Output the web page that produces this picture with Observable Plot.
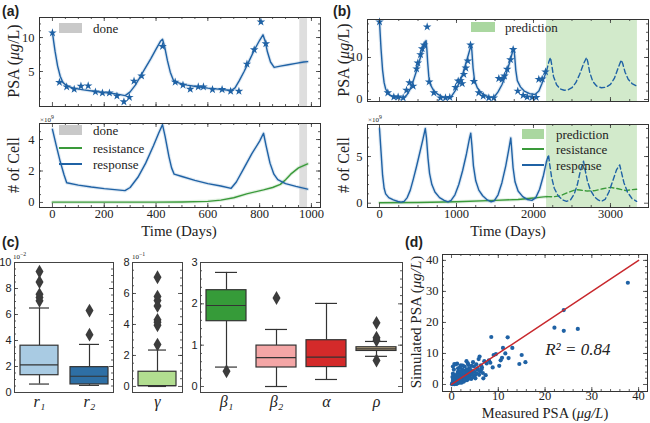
<!DOCTYPE html>
<html><head><meta charset="utf-8">
<script src="https://cdn.jsdelivr.net/npm/d3@7"></script>
<script src="https://cdn.jsdelivr.net/npm/@observablehq/plot@0.6"></script>
<style>
body{margin:0;background:#fff;}
#root{position:relative;width:650px;height:423px;overflow:hidden;font-family:"Liberation Serif",serif;color:#222;}
.p{position:absolute;line-height:0;}
.lab{position:absolute;white-space:nowrap;transform:translate(-50%,-50%);line-height:1;}
.rot{transform:translate(-50%,-50%) rotate(-90deg);}
.pl{position:absolute;font-family:"Liberation Sans",Arial,sans-serif;font-weight:bold;font-size:14px;line-height:1;transform:translateY(-50%);}
.exp{position:absolute;font-size:7px;line-height:1;font-family:"Liberation Serif",serif;}
.sw{position:absolute;}
.lt{position:absolute;font-size:13px;line-height:1;transform:translateY(-50%);white-space:nowrap;}
</style></head>
<body><div id="root"></div>
<script>
// ---------------- DATA ----------------
// Panel (a): patient with "done" window
const aDoneWindow = [[955, 985]];
const aPsaMeasured = [[0,10.7],[27,3.4],[55,2.75],[84,2.4],[110,2.85],[138,2.9],[166,2.0],[193,1.85],[220,1.85],[249,1.4],[276,0.55],[297,1.2],[315,3.6],[344,4.35],[425,8.7],[474,3.45],[504,3.0],[532,2.4],[563,2.75],[583,2.75],[618,2.35],[655,2.35],[688,2.1],[720,2.1],[751,6.1],[779,8.2],[805,12.3],[824,9.1]];
const aPsaFit = [[0,10.7],[10,8.0],[20,5.8],[30,4.3],[40,3.4],[55,2.9],[80,2.55],[120,2.3],[160,2.1],[200,1.9],[240,1.75],[281,1.45],[300,2.0],[320,3.0],[340,4.3],[360,5.6],[380,6.9],[400,8.3],[418,9.5],[425,9.75],[433,8.7],[444,6.6],[455,4.9],[467,3.7],[480,3.4],[520,3.0],[560,2.75],[600,2.55],[640,2.4],[690,2.2],[705,2.6],[722,3.7],[740,5.0],[760,6.6],[780,8.2],[800,9.6],[813,10.4],[821,9.5],[830,7.9],[842,6.4],[856,5.6],[880,5.8],[910,6.0],[940,6.2],[970,6.4],[985,6.45]];
const aResponse = [[0,4.65],[15,3.6],[30,2.6],[45,1.75],[55,1.25],[100,1.1],[150,0.98],[200,0.88],[250,0.8],[280,0.75],[300,0.95],[330,1.6],[360,2.5],[390,3.6],[410,4.4],[425,4.95],[435,4.2],[450,2.9],[460,2.2],[470,1.8],[500,1.65],[550,1.4],[600,1.2],[650,1.05],[690,0.9],[710,1.3],[740,2.2],[770,3.1],[800,3.9],[815,4.4],[825,3.6],[840,2.5],[855,1.8],[870,1.45],[900,1.2],[940,1.02],[985,0.85]];
const aResistance = [[0,0.02],[200,0.02],[400,0.02],[500,0.03],[600,0.07],[650,0.15],[700,0.3],[750,0.55],[815,0.8],[850,0.95],[880,1.15],[900,1.45],[920,1.8],[950,2.2],[985,2.45]];
const aTimeTicks = [0,200,400,600,800,1000];

// Panel (b): patient with prediction window
const bPredictionWindow = [[2170, 3350]];
const bPsaMeasured = [[0,18.5],[108,1.6],[186,0.6],[242,0.6],[307,0.4],[351,2.2],[390,4.0],[437,3.2],[481,7.3],[498,8.7],[532,10.7],[554,12.1],[580,13.0],[619,17.3],[645,4.2],[706,1.6],[792,0.4],[857,0.4],[913,0.5],[987,2.9],[1022,4.4],[1052,4.5],[1074,3.8],[1095,6.0],[1121,7.5],[1147,9.2],[1182,13.0],[1225,4.3],[1290,1.6],[1347,0.8],[1420,0.4],[1485,0.4],[1550,5.0],[1593,4.8],[1623,5.6],[1658,7.2],[1701,9.5],[1736,11.9],[1796,2.0],[1866,1.0],[1918,0.6],[1983,0.5],[2035,0.5],[2069,4.8],[2113,4.9],[2156,6.6]];
const bPsaFit = [[0,18.5],[20,12],[40,7],[60,4],[80,2.5],[110,1.5],[150,0.9],[200,0.6],[260,0.5],[320,0.5],[360,1.2],[400,2.5],[440,4.5],[480,6.8],[520,9.3],[560,11.8],[590,13.5],[605,14],[615,12],[625,9],[640,5.5],[660,3.6],[700,2.2],[760,1.2],[820,0.6],[880,0.4],[930,0.6],[980,2],[1030,3.7],[1080,6],[1120,8.5],[1160,11],[1190,13],[1200,11.5],[1215,7.5],[1235,4.5],[1270,2.8],[1320,1.6],[1380,0.9],[1440,0.5],[1490,0.6],[1540,1.8],[1590,3.5],[1640,5.8],[1690,8.8],[1730,11.5],[1745,12],[1755,10.5],[1770,7],[1790,4.5],[1830,3],[1880,2],[1950,1.4],[2020,1.2],[2070,2.0],[2110,3.8],[2150,5.8],[2170,6.8]];
const bPsaPred = [[2170,6.8],[2200,9],[2220,10],[2235,8.5],[2260,5.5],[2300,3.5],[2350,2.5],[2400,2.2],[2450,2.3],[2500,2.8],[2550,4],[2600,6],[2650,8.5],[2690,10],[2705,9],[2730,6.5],[2770,4.3],[2820,3.2],[2880,2.8],[2940,2.9],[3000,3.6],[3050,5],[3100,7.5],[3140,9.4],[3160,8.5],[3190,6.5],[3230,4.8],[3280,3.8],[3340,3.2]];
const bResponse = [[0,8.0],[20,5.5],[40,3],[60,1.6],[80,1.0],[120,0.6],[180,0.35],[240,0.18],[280,0.12],[320,0.2],[360,0.6],[400,1.4],[440,2.6],[480,3.9],[520,5.3],[560,6.7],[595,8.0],[610,7.0],[630,4.8],[650,3.2],[680,2],[720,1.2],[780,0.6],[840,0.3],[890,0.15],[930,0.3],[980,0.9],[1030,2.0],[1080,3.5],[1130,5.3],[1170,7.0],[1185,7.5],[1200,6.2],[1220,4],[1250,2.4],[1290,1.4],[1340,0.8],[1400,0.35],[1450,0.15],[1490,0.25],[1540,0.9],[1590,2.2],[1640,4.0],[1680,5.8],[1705,7.0],[1715,6],[1735,3.8],[1760,2.3],[1800,1.3],[1860,0.7],[1920,0.4],[1980,0.3],[2030,0.6],[2080,1.5],[2130,3.0],[2170,4.5]];
const bResponsePred = [[2170,4.5],[2195,5.2],[2210,4.2],[2235,2.8],[2270,1.6],[2320,0.8],[2380,0.35],[2430,0.2],[2480,0.35],[2530,1.0],[2570,2.0],[2610,3.5],[2650,4.5],[2670,3.6],[2700,2.4],[2740,1.4],[2790,0.7],[2840,0.35],[2880,0.2],[2930,0.4],[2980,1.2],[3030,2.4],[3080,3.6],[3120,4.1],[3140,3.4],[3175,2.2],[3220,1.2],[3280,0.5],[3340,0.2]];
const bResistance = [[0,0.05],[500,0.08],[1000,0.15],[1500,0.3],[1800,0.4],[2000,0.55],[2100,0.65],[2170,0.7]];
const bResistancePred = [[2170,0.7],[2250,0.68],[2350,0.8],[2450,1.15],[2550,1.45],[2600,1.42],[2700,1.3],[2800,1.35],[2900,1.55],[3000,1.7],[3100,1.55],[3200,1.35],[3280,1.45],[3340,1.5]];
const bTimeTicks = [0,1000,2000,3000];

// Panel (c): parameter box plots (summary statistics)
const c1Names = ["r₁","r₂"];            // ×10^-2
const c1Lo = [0.65,0.55], c1Q1 = [1.33,0.62], c1Med = [2.12,1.25], c1Q3 = [3.6,1.95], c1Hi = [6.5,3.7];
const c1Colors = ["#a9cbe3","#2e6fa5"];
const c1Outliers = [["r₁",7.05],["r₁",7.3],["r₁",7.55],["r₁",8.5],["r₁",9.3],["r₂",4.45],["r₂",6.3]];
const c2Names = ["γ"];                   // ×10^-1
const c2Lo = [0], c2Q1 = [0.02], c2Med = [0.06], c2Q3 = [0.95], c2Hi = [2.35];
const c2Colors = ["#b2de90"];
const c2Outliers = [["γ",2.7],["γ",3.95],["γ",4.15],["γ",4.3],["γ",5.2],["γ",5.55],["γ",5.8],["γ",7.05]];
const c3Names = ["β₁","β₂","α","ρ"];
const c3Lo = [0.47,0.0,0.17,0.73], c3Q1 = [1.58,0.46,0.47,0.86], c3Med = [1.96,0.70,0.71,0.91], c3Q3 = [2.33,0.99,1.12,0.95], c3Hi = [2.76,1.38,2.01,1.09];
const c3Colors = ["#369b39","#f4a6a6","#d42a2a","#c5b189"];
const c3Outliers = [["β₁",0.37],["β₂",2.14],["ρ",1.54],["ρ",1.18],["ρ",1.12],["ρ",0.63]];

// Panel (d): measured vs simulated PSA
const psaPairs = [[37.7,32.8],[24,24],[22,18.3],[24,17.3],[27,17.9],[8.5,15.3],[12,15.2],[11,11.8],[13,11.8],[15,9.5],[15.8,7.2],[14.5,6.6],[10.5,7.8],[10.8,8.6],[12.2,8.5],[11.5,10],[9.5,9.8],[9,9.5],[10.2,6],[8.8,5.5],[8.3,7],[8,7.8],[7.5,6.8],[7.3,3],[7,7.5],[6.8,2],[6.5,5.5],[6.3,6.2],[6,9],[5.8,8.2],[5.5,4.8],[5.3,6.5],[5,3],[4.8,5.8],[4.5,4.2],[4.3,6],[4,3.8],[3.8,5.2],[3.5,6.8],[3.2,7.5],[3,4.5],[2.8,5.8],[2.5,3.2],[2.3,4.8],[2,6.2],[1.8,5.5],[1.5,4.3],[1.2,6.7],[0.9,6.5],[0.5,4.8],[0.3,3.5],[0.7,2.8],[0.4,2],[1.2,0.3],[1,1],[0.8,0.5],[0.6,1.5],[0.5,0.2],[0.3,0.8],[0.2,0.3],[0.1,0.1],[0.2,0.5],[0.3,1.2],[0.4,0.4],[0.5,0.9],[0.6,0.1],[0.7,1.8],[0.8,1.2],[0.9,0.3],[1,2.2],[1.1,1.6],[1.2,0.8],[1.3,2.5],[1.4,1.1],[1.5,0.5],[1.6,1.9],[1.7,2.8],[1.8,1.4],[1.9,0.7],[2,2],[2.1,3.1],[2.2,1.2],[2.3,2.4],[2.4,1.7],[2.6,0.9],[2.7,2.6],[2.9,1.9],[3,3.4],[3.1,2.3],[3.3,1.4],[3.4,3.6],[3.6,2.5],[3.7,4.1],[3.9,2.9],[4.1,4.6],[4.2,1.8],[4.4,3.3],[4.6,2.4],[4.9,4.1],[5.1,2],[5.4,3.6],[5.6,5.2],[5.9,3.1],[6.1,4.2],[6.4,4.9],[6.7,3.7],[0.2,2.4],[0.35,1.7],[0.45,3],[0.55,0.6],[0.65,2.1],[0.75,0.8],[0.85,1.4],[0.95,2.6],[1.05,0.2],[1.15,3.3],[1.25,1.4],[1.35,4],[1.45,2.1],[1.55,3.2],[1.65,0.9],[1.75,3.8],[1.85,2.2],[1.95,1.5],[2.05,4.2],[2.15,0.6],[2.25,3.5],[2.45,2.8],[2.65,3.9],[2.85,1.3],[3.05,2.7],[3.25,4.9],[3.45,1.9],[3.65,3.1],[3.85,2],[0.3,5.8],[0.6,6.6],[1.4,5.2],[2.4,6.1],[3.6,6.3],[4.6,7.2]];
const identityLine = [[0,0],[40,40]];
const r2Note = [{x: 27, y: 11.3, text: "R² = 0.84"}];
const dTicks = [0,10,20,30,40];

// ---------------- STYLE ----------------
const BLUE = "#1f62a5", GREEN = "#3a9a3a", FRAME = "#333";
const serif = "Liberation Serif, serif", sans = "Liberation Sans, Arial, sans-serif";
const root = document.getElementById("root");
const plain = d => String(d);

function place(el, left, top) {
  const d = document.createElement("div");
  d.className = "p"; d.style.left = left + "px"; d.style.top = top + "px";
  d.appendChild(el); root.appendChild(d);
}
function html(s) { root.insertAdjacentHTML("beforeend", s); }

function inTicks(xs, ys, W, H, len) {
  const o = {stroke: FRAME, strokeWidth: 0.8};
  const m = [];
  if (xs) m.push(Plot.ruleX(xs, {x: d => d, insetTop: H - len, ...o}), Plot.ruleX(xs, {x: d => d, insetBottom: H - len, ...o}));
  if (ys) m.push(Plot.ruleY(ys, {y: d => d, insetRight: W - len, ...o}), Plot.ruleY(ys, {y: d => d, insetLeft: W - len, ...o}));
  return m;
}
const X = d => d[0], Y = d => d[1];
function curve(data, stroke, dashed) {
  const m = [];
  if (!dashed) m.push(Plot.line(data, {x: X, y: Y, stroke, strokeWidth: 3.5, strokeOpacity: 0.15}));
  m.push(Plot.line(data, {x: X, y: Y, stroke, strokeWidth: 1.4, strokeDasharray: dashed ? "5,3" : null}));
  return m;
}
const baseStyle = {fontFamily: serif, fontSize: "12.5px", color: "#222", background: "transparent", overflow: "visible"};

// ---------------- PANEL (a) top ----------------
{
  const w = 325, h = 110, ml = 39, mr = 5, mt = 17, mb = 4;
  const W = w - ml - mr, H = h - mt - mb;
  place(Plot.plot({
    width: w, height: h, marginLeft: ml, marginRight: mr, marginTop: mt, marginBottom: mb,
    x: {domain: [-50, 1035], axis: null}, y: {domain: [-0.15, 12.95]},
    style: baseStyle,
    marks: [
      Plot.rect(aDoneWindow, {x1: X, x2: Y, fill: "#dedede"}),
      ...curve(aPsaFit, BLUE),
      Plot.dot(aPsaMeasured, {x: X, y: Y, symbol: "star", r: 2.7, fill: BLUE, stroke: "none"}),
      Plot.axisY({ticks: [5, 10], tickFormat: plain, tickSize: 0, tickPadding: 5, label: null}),
      ...inTicks(aTimeTicks, [5, 10], W, H, 4),
      ...inTicks(d3.range(50, 1001, 50), d3.range(1, 13, 1), W, H, 2),
      Plot.frame({stroke: FRAME})
    ]
  }), 0, 0);
}
// ---------------- PANEL (a) bottom ----------------
{
  const w = 325, h = 130, ml = 39, mr = 5, mt = 13, mb = 33;
  const W = w - ml - mr, H = h - mt - mb;
  place(Plot.plot({
    width: w, height: h, marginLeft: ml, marginRight: mr, marginTop: mt, marginBottom: mb,
    x: {domain: [-50, 1035]}, y: {domain: [-0.32, 5.02]},
    style: baseStyle,
    marks: [
      Plot.rect(aDoneWindow, {x1: X, x2: Y, fill: "#dedede"}),
      ...curve(aResistance, GREEN),
      ...curve(aResponse, BLUE),
      Plot.axisX({ticks: aTimeTicks, tickFormat: plain, tickSize: 0, tickPadding: 2, label: null}),
      Plot.axisY({ticks: [0, 2, 4], tickFormat: plain, tickSize: 0, tickPadding: 5, label: null}),
      ...inTicks(aTimeTicks, [0, 2, 4], W, H, 4),
      ...inTicks(d3.range(50, 1001, 50), d3.range(0.5, 5, 0.5), W, H, 2),
      Plot.frame({stroke: FRAME})
    ]
  }), 0, 110);
}
// ---------------- PANEL (b) top ----------------
{
  const w = 325, h = 110, ml = 42, mr = 2, mt = 19, mb = 9;
  const W = w - ml - mr, H = h - mt - mb;
  place(Plot.plot({
    width: w, height: h, marginLeft: ml, marginRight: mr, marginTop: mt, marginBottom: mb,
    x: {domain: [-156, 3494], axis: null}, y: {domain: [-0.48, 19.05]},
    style: baseStyle,
    marks: [
      Plot.rect(bPredictionWindow, {x1: X, x2: Y, fill: "#d2eacb"}),
      ...curve(bPsaFit, BLUE),
      ...curve(bPsaPred, BLUE, true),
      Plot.dot(bPsaMeasured, {x: X, y: Y, symbol: "star", r: 2.7, fill: BLUE, stroke: "none"}),
      Plot.axisY({ticks: [0, 10], tickFormat: plain, tickSize: 0, tickPadding: 5, label: null}),
      ...inTicks(bTimeTicks, [0, 10], W, H, 4),
      ...inTicks(d3.range(250, 3401, 250), d3.range(2, 19, 2), W, H, 2),
      Plot.frame({stroke: FRAME})
    ]
  }), 325, 0);
}
// ---------------- PANEL (b) bottom ----------------
{
  const w = 325, h = 130, ml = 42, mr = 2, mt = 14, mb = 33;
  const W = w - ml - mr, H = h - mt - mb;
  place(Plot.plot({
    width: w, height: h, marginLeft: ml, marginRight: mr, marginTop: mt, marginBottom: mb,
    x: {domain: [-156, 3494]}, y: {domain: [-0.46, 8.43]},
    style: baseStyle,
    marks: [
      Plot.rect(bPredictionWindow, {x1: X, x2: Y, fill: "#d2eacb"}),
      ...curve(bResistance, GREEN),
      ...curve(bResistancePred, GREEN, true),
      ...curve(bResponse, BLUE),
      ...curve(bResponsePred, BLUE, true),
      Plot.axisX({ticks: bTimeTicks, tickFormat: plain, tickSize: 0, tickPadding: 2, label: null}),
      Plot.axisY({ticks: [0, 5], tickFormat: plain, tickSize: 0, tickPadding: 5, label: null}),
      ...inTicks(bTimeTicks, [0, 5], W, H, 4),
      ...inTicks(d3.range(250, 3401, 250), d3.range(1, 8.1, 1), W, H, 2),
      Plot.frame({stroke: FRAME})
    ]
  }), 325, 110);
}
// ---------------- PANEL (c) box plots ----------------
function boxPanel({names, lo, q1, med, q3, hi, colors, outliers, yDomain, yTicks, yMinor, w, ml, mr, pi, po, left, capInset}) {
  const h = 173, mt = 12, mb = 31;
  const W = w - ml - mr, H = h - mt - mb;
  const rows = names.map((n, i) => ({n, lo: lo[i], q1: q1[i], med: med[i], q3: q3[i], hi: hi[i], c: colors[i]}));
  const o = {stroke: "#333", strokeWidth: 1.2};
  place(Plot.plot({
    width: w, height: h, marginLeft: ml, marginRight: mr, marginTop: mt, marginBottom: mb,
    x: {domain: names, paddingInner: pi, paddingOuter: po},
    y: {domain: yDomain},
    color: {type: "identity"},
    style: {...baseStyle, fontFamily: sans, fontSize: "11px"},
    marks: [
      Plot.ruleX(rows, {x: "n", y1: "lo", y2: "q1", ...o}),
      Plot.ruleX(rows, {x: "n", y1: "q3", y2: "hi", ...o}),
      Plot.barY(rows, {x: "n", y1: "q1", y2: "q3", fill: "c", ...o}),
      Plot.tickY(rows, {x: "n", y: "med", ...o}),
      Plot.tickY(rows, {x: "n", y: "lo", insetLeft: capInset, insetRight: capInset, ...o}),
      Plot.tickY(rows, {x: "n", y: "hi", insetLeft: capInset, insetRight: capInset, ...o}),
      Plot.dot(outliers, {x: X, y: Y, symbol: "diamond", r: 4.2, fill: "#3c3c3c", stroke: "none"}),
      Plot.axisX({tickSize: 0, tickPadding: 3, label: null, fontSize: 16, fontStyle: "italic", fontFamily: serif}),
      Plot.axisY({ticks: yTicks, tickFormat: plain, tickSize: 0, tickPadding: 3, label: null}),
      ...inTicks(null, yTicks, W, H, 4),
      ...inTicks(null, yMinor, W, H, 2),
      Plot.frame({stroke: "#444"})
    ]
  }), left, 250);
}
boxPanel({names: c1Names, lo: c1Lo, q1: c1Q1, med: c1Med, q3: c1Q3, hi: c1Hi, colors: c1Colors, outliers: c1Outliers,
  yDomain: [0, 10], yTicks: [0, 2, 4, 6, 8, 10], yMinor: d3.range(0.5, 10, 0.5), w: 120, ml: 14, mr: 7, pi: 0.24, po: 0.11, left: 0, capInset: 9});
boxPanel({names: c2Names, lo: c2Lo, q1: c2Q1, med: c2Med, q3: c2Q3, hi: c2Hi, colors: c2Colors, outliers: c2Outliers,
  yDomain: [-0.39, 8], yTicks: [0, 2, 4, 6, 8], yMinor: d3.range(0.5, 8, 0.5), w: 67, ml: 12, mr: 5, pi: 0.2, po: 0.125, left: 120, capInset: 10});
boxPanel({names: c3Names, lo: c3Lo, q1: c3Q1, med: c3Med, q3: c3Q3, hi: c3Hi, colors: c3Colors, outliers: c3Outliers,
  yDomain: [-0.145, 3], yTicks: [0, 1, 2, 3], yMinor: d3.range(0.2, 3, 0.2), w: 218, ml: 13, mr: 3, pi: 0.21, po: 0.105, left: 187, capInset: 9});

// ---------------- PANEL (d) scatter ----------------
{
  const w = 245, h = 173, ml = 37, mr = 3, mt = 4, mb = 32;
  const W = w - ml - mr, H = h - mt - mb;
  place(Plot.plot({
    width: w, height: h, marginLeft: ml, marginRight: mr, marginTop: mt, marginBottom: mb,
    x: {domain: [-1.93, 41.9]}, y: {domain: [-2.26, 41.9]},
    style: baseStyle,
    marks: [
      Plot.dot(psaPairs, {x: X, y: Y, r: 2.1, fill: BLUE, stroke: "none"}),
      Plot.line(identityLine, {x: X, y: Y, stroke: "#c8282d", strokeWidth: 1.5}),
      Plot.text(r2Note, {x: "x", y: "y", text: "text", fontSize: 17, fontStyle: "italic", fill: "#222"}),
      Plot.axisX({ticks: dTicks, tickFormat: plain, tickSize: 0, tickPadding: 0, label: null}),
      Plot.axisY({ticks: dTicks, tickFormat: plain, tickSize: 0, tickPadding: 4, label: null}),
      ...inTicks(dTicks, dTicks, W, H, 4),
      ...inTicks(d3.range(2, 41, 2), d3.range(2, 41, 2), W, H, 2),
      Plot.frame({stroke: FRAME})
    ]
  }), 405, 250);
}

// ---------------- TEXT: labels, legends ----------------
html(`<div class="pl" style="left:2px;top:11px">(a)</div>`);
html(`<div class="pl" style="left:333px;top:11px">(b)</div>`);
html(`<div class="pl" style="left:2px;top:242px">(c)</div>`);
html(`<div class="pl" style="left:405px;top:242px">(d)</div>`);

html(`<div class="lab rot" style="left:14px;top:61px;font-size:16px">PSA (<i>μg</i>/L)</div>`);
html(`<div class="lab rot" style="left:14px;top:165px;font-size:16px"># of Cell</div>`);
html(`<div class="lab rot" style="left:344px;top:60px;font-size:16px">PSA (<i>μg</i>/L)</div>`);
html(`<div class="lab rot" style="left:344px;top:165px;font-size:16px"># of Cell</div>`);
html(`<div class="lab" style="left:179px;top:231px;font-size:15px">Time (Days)</div>`);
html(`<div class="lab" style="left:508px;top:231px;font-size:15px">Time (Days)</div>`);
html(`<div class="lab" style="left:545px;top:413px;font-size:14.5px">Measured PSA (<i>μg/L</i>)</div>`);
html(`<div class="lab rot" style="left:416px;top:322px;font-size:15px">Simulated PSA (<i>μg/L</i>)</div>`);

html(`<div class="exp" style="left:40px;top:115px">×10<sup>9</sup></div>`);
html(`<div class="exp" style="left:368px;top:115px">×10<sup>9</sup></div>`);
html(`<div class="exp" style="left:13px;top:252px">10<sup>−2</sup></div>`);
html(`<div class="exp" style="left:132px;top:252px">10<sup>−1</sup></div>`);

// legends
html(`<div class="sw" style="left:59px;top:23px;width:23px;height:10px;background:#c9c9c9"></div><div class="lt" style="left:93px;top:28px">done</div>`);
html(`<div class="sw" style="left:59px;top:125px;width:23px;height:10px;background:#c9c9c9"></div><div class="lt" style="left:93px;top:130px">done</div>`);
html(`<div class="sw" style="left:59px;top:147px;width:23px;height:2px;background:${GREEN}"></div><div class="lt" style="left:93px;top:148px">resistance</div>`);
html(`<div class="sw" style="left:59px;top:163px;width:23px;height:2px;background:${BLUE}"></div><div class="lt" style="left:93px;top:164px">response</div>`);
html(`<div class="sw" style="left:471px;top:22px;width:24px;height:10px;background:#aad7a0"></div><div class="lt" style="left:505px;top:27px">prediction</div>`);
html(`<div class="sw" style="left:522px;top:129px;width:22px;height:10px;background:#aad7a0"></div><div class="lt" style="left:556px;top:134px">prediction</div>`);
html(`<div class="sw" style="left:522px;top:148px;width:22px;height:2px;background:${GREEN}"></div><div class="lt" style="left:556px;top:149px">resistance</div>`);
html(`<div class="sw" style="left:522px;top:164px;width:22px;height:2px;background:${BLUE}"></div><div class="lt" style="left:556px;top:165px">response</div>`);
</script>
</body></html>
